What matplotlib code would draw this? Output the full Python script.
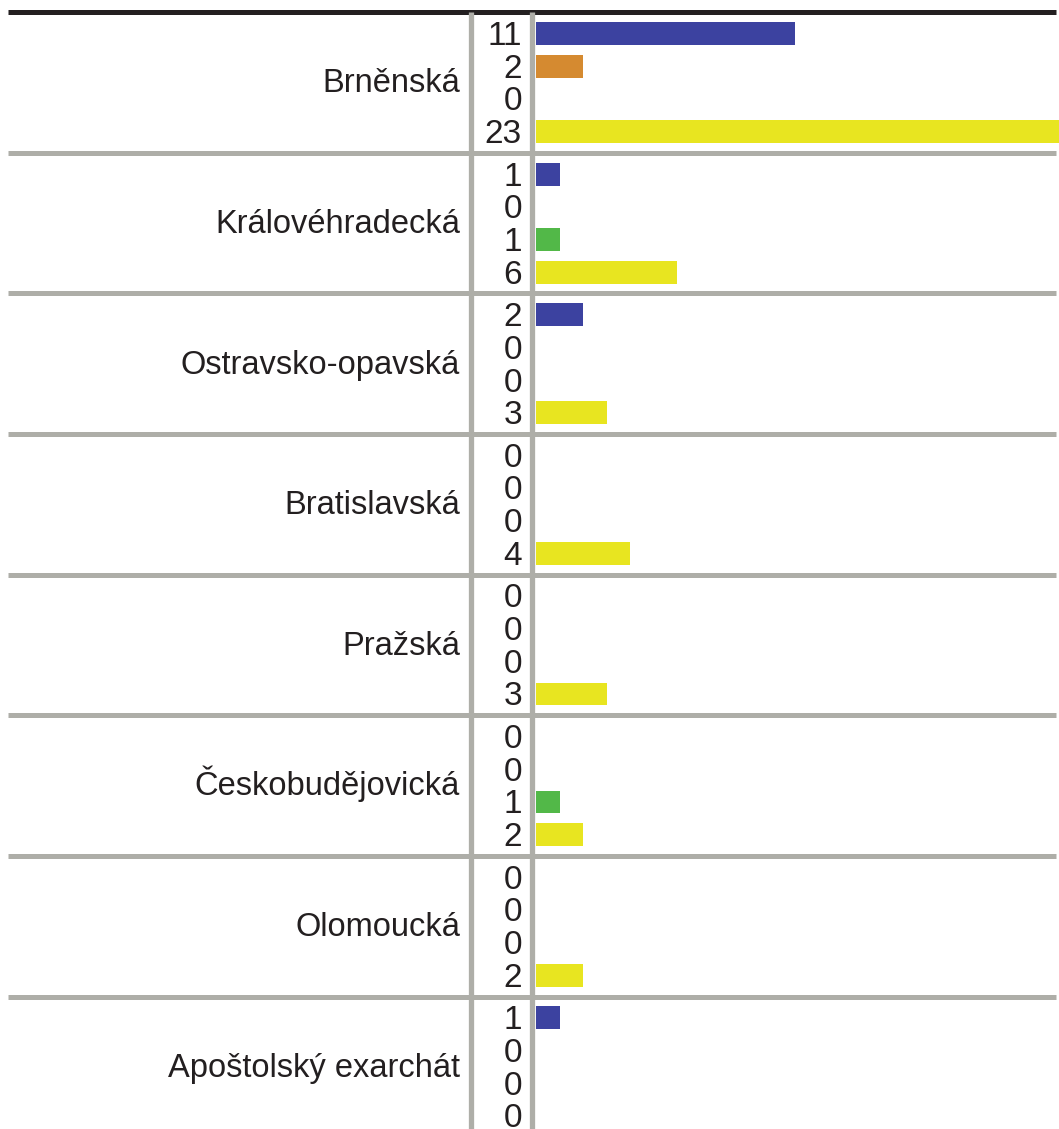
import numpy as np
import matplotlib.pyplot as plt

plt.rcParams['font.family'] = ['Liberation Sans', 'DejaVu Sans']

groups = ['Brněnská', 'Královéhradecká', 'Ostravsko-opavská', 'Bratislavská',
          'Pražská', 'Českobudějovická', 'Olomoucká', 'Apoštolský exarchát']
s1 = [11, 1, 2, 0, 0, 0, 0, 1]
s2 = [2, 0, 0, 0, 0, 0, 0, 0]
s3 = [0, 1, 0, 0, 0, 1, 0, 0]
s4 = [23, 6, 3, 4, 3, 2, 2, 0]
series = [s1, s2, s3, s4]
colors = ['#3c42a0', '#d58a30', '#52b848', '#e8e520']

W, H = 1059, 1129
fig = plt.figure(figsize=(W / 100, H / 100), dpi=100)
ax = fig.add_axes([0, 0, 1, 1])

px_unit = 23.5      # pixels per value unit
x0_px = 536         # bar origin
row_px = 32.7
row0_px = 33.5
gpitch = 4.3

ax.set_xlim(-x0_px / px_unit, (W - x0_px) / px_unit)
ax.set_ylim((H - row0_px) / row_px, -row0_px / row_px)
ax.axis('off')

ytr = ax.get_yaxis_transform()
grey = '#aeaea8'
ink = '#231f20'

for g, name in enumerate(groups):
    base = g * gpitch
    sep = base - 0.65
    ax.plot([8 / W, 1056 / W], [sep, sep], transform=ytr,
            color=ink if g == 0 else grey, lw=3.6,
            solid_capstyle='butt', zorder=1)
    ax.text(460 / W, base + 1.5 + 0.30, name, transform=ytr, ha='right',
            va='baseline', fontsize=23.5, color=ink)
    for r, s in enumerate(series):
        v = s[g]
        ax.barh(base + r, v, height=0.70, color=colors[r], zorder=3)
        ax.text(522 / W, base + r + 0.35, str(v), transform=ytr, ha='right',
                va='baseline', fontsize=24, color=ink)

top = -0.65
for xp in (471, 532):
    ax.plot([xp / W, xp / W], [top, 40], transform=ytr, color=grey,
            lw=3.8, solid_capstyle='butt', zorder=2)

fig.savefig('out.png', dpi=100)
